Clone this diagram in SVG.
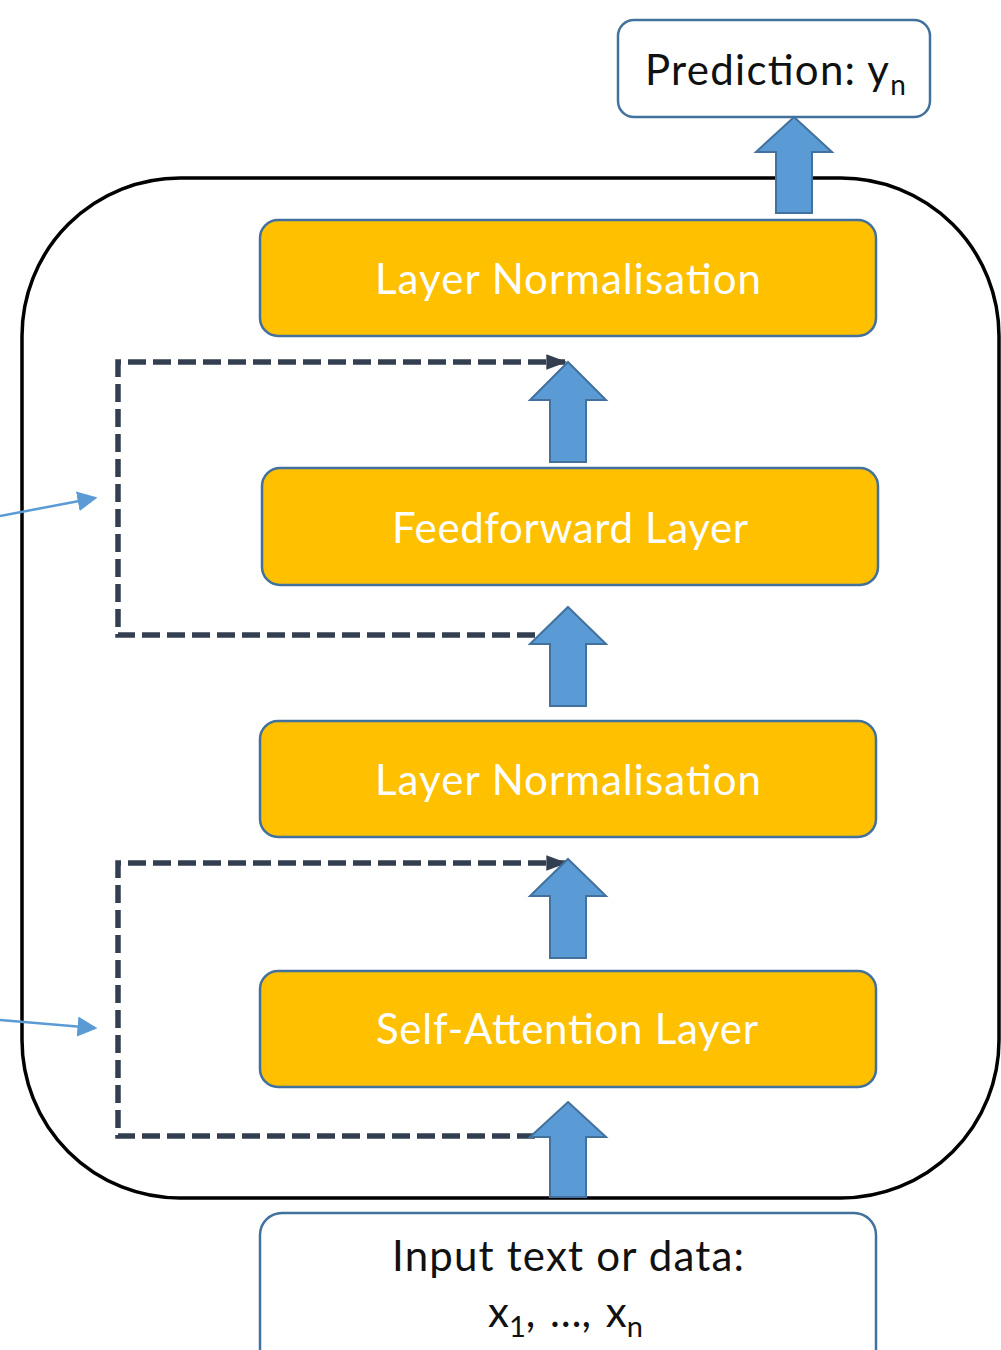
<svg xmlns="http://www.w3.org/2000/svg" width="1001" height="1350" viewBox="0 0 1001 1350">
<style>
.box{fill:#FFC000;stroke:#41719C;stroke-width:2.5}
.wbox{fill:#FFFFFF;stroke:#41719C;stroke-width:2.5}
.lbl{font-family:Lato,"Open Sans","Liberation Sans",sans-serif;font-size:42px;fill:#FFFFFF;text-anchor:middle}
.dlbl{font-family:Lato,"Open Sans","Liberation Sans",sans-serif;font-size:42px;fill:#111111}
.blk{fill:#5B9BD5;stroke:#41719C;stroke-width:2}
.dash{fill:none;stroke:#333F50;stroke-width:5.5;stroke-dasharray:18 7}
.thin{fill:none;stroke:#5B9BD5;stroke-width:2.5}
</style>
<defs>
<marker id="dk" markerWidth="6" markerHeight="6" refX="3.4" refY="3" orient="auto" markerUnits="strokeWidth">
<path d="M0,1.6 L3.8,3 L0,4.4 Z" fill="#333F50"/>
</marker>
<marker id="bl" markerWidth="8" markerHeight="8" refX="7" refY="4" orient="auto" markerUnits="strokeWidth">
<path d="M0,0 L8,4 L0,8 Z" fill="#5B9BD5"/>
</marker>
</defs>
<rect width="1001" height="1350" fill="#FFFFFF"/>
<g id="container">
<rect x="22" y="178" width="977" height="1020" rx="158" ry="158" fill="none" stroke="#000000" stroke-width="3.5"/>
</g>
<g id="prediction">
<rect class="wbox" x="618" y="20" width="312" height="97" rx="16"/>
<text class="dlbl" x="645" y="85" font-size="43"><tspan textLength="244">Prediction: y</tspan><tspan font-size="28" dy="10">n</tspan></text>
</g>
<g id="layernorm-top">
<rect class="box" x="260" y="220" width="616" height="116" rx="18"/>
<text class="lbl" x="568" y="294" textLength="386">Layer Normalisation</text>
</g>
<g id="feedforward">
<rect class="box" x="262" y="468" width="616" height="117" rx="18"/>
<text class="lbl" x="570" y="543" textLength="356">Feedforward Layer</text>
</g>
<g id="layernorm-mid">
<rect class="box" x="260" y="721" width="616" height="116" rx="18"/>
<text class="lbl" x="568" y="795" textLength="386">Layer Normalisation</text>
</g>
<g id="selfattention">
<rect class="box" x="260" y="971" width="616" height="116" rx="18"/>
<text class="lbl" x="567" y="1044" textLength="382">Self-Attention Layer</text>
</g>
<g id="input">
<rect class="wbox" x="260" y="1213" width="616" height="200" rx="22"/>
<text class="dlbl" x="568" y="1271" text-anchor="middle" textLength="352">Input text or data:</text>
<text class="dlbl" x="488" y="1327" font-size="44" word-spacing="4">x<tspan font-size="29" dy="10">1</tspan><tspan dy="-10">, …, x</tspan><tspan font-size="29" dy="10">n</tspan></text>
</g>
<g id="connectors">
<path class="dash" d="M535,635 H118 V362 H565" marker-end="url(#dk)"/>
<path class="dash" d="M535,1136 H118 V863 H565" marker-end="url(#dk)"/>
<path class="thin" d="M0,516 L95,498" marker-end="url(#bl)"/>
<path class="thin" d="M0,1020 L95,1028" marker-end="url(#bl)"/>
<path class="blk" d="M794,117 L832,152 L812,152 L812,213 L776,213 L776,152 L756,152 Z"/>
<path class="blk" d="M568,362 L606,400 L586,400 L586,462 L550,462 L550,400 L530,400 Z"/>
<path class="blk" d="M568,607 L606,644 L586,644 L586,706 L550,706 L550,644 L530,644 Z"/>
<path class="blk" d="M568,859 L606,896 L586,896 L586,958 L550,958 L550,896 L530,896 Z"/>
<path class="blk" d="M568,1102 L606,1137 L586,1137 L586,1197 L550,1197 L550,1137 L530,1137 Z"/>
</g>
</svg>
